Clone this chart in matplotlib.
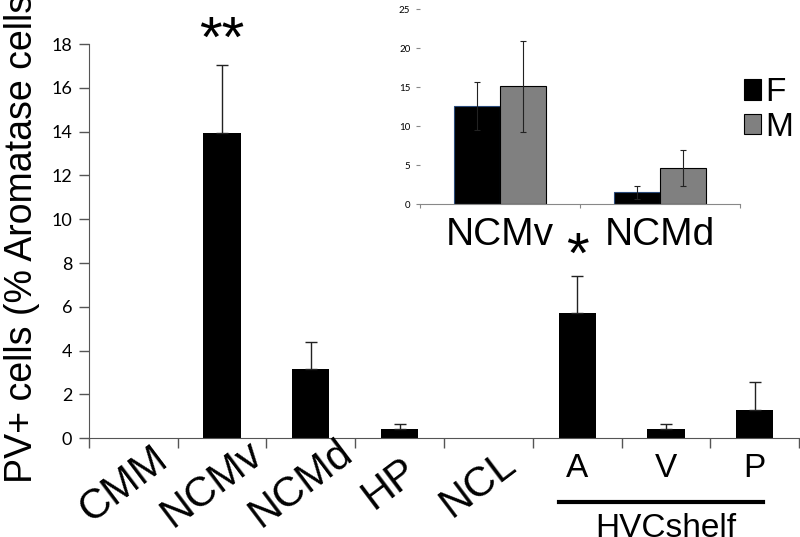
import numpy as np
import matplotlib.pyplot as plt
from matplotlib.transforms import offset_copy

# PV+ cells as % of aromatase cells, per region
regions = ["CMM", "NCMv", "NCMd", "HP", "NCL", "A", "V", "P"]
pv_mean = [0, 13.95, 3.15, 0.42, 0, 5.7, 0.42, 1.3]
pv_err = [0, 3.1, 1.25, 0.25, 0, 1.72, 0.25, 1.27]

# inset: females vs males
inset_groups = ["NCMv", "NCMd"]
female_mean = [12.6, 1.5]
female_err = [3.05, 0.85]
male_mean = [15.1, 4.6]
male_err = [5.8, 2.3]

big = "Liberation Sans"
small = "Lato"
axis_col = "#555555"

fig = plt.figure(figsize=(8, 5.37), dpi=100)
ax = fig.add_axes([0.111, 0.184, 0.888, 0.734])

x = np.arange(len(regions))
ax.bar(x, pv_mean, width=0.42, color="black")
has = [i for i in range(len(regions)) if pv_mean[i] > 0]
ax.errorbar(x[has], np.array(pv_mean)[has],
            yerr=[np.zeros(len(has)), np.array(pv_err)[has]],
            fmt="none", ecolor="#222222", elinewidth=1, capsize=4, capthick=1)

ax.set_xlim(-0.5, len(regions) - 0.5)
ax.set_ylim(0, 18)
ax.set_yticks(range(0, 19, 2))
ax.set_xticks(np.arange(len(regions) + 1) - 0.5)
ax.set_xticklabels([])
for s in ["top", "right"]:
    ax.spines[s].set_visible(False)
for s in ["left", "bottom"]:
    ax.spines[s].set_color(axis_col)
ax.tick_params(axis="both", direction="out", length=7, color=axis_col, width=1)
ax.tick_params(axis="y", labelsize=13, pad=5)
for t in ax.get_yticklabels():
    t.set_family(small)

# category labels
xt = ax.get_xaxis_transform()
for i, lab in enumerate(regions):
    if i < 5:
        tr = offset_copy(xt, fig=fig, x=-7, y=-33, units="points")
        ax.text(x[i], 0, lab, transform=tr, rotation=37, rotation_mode="anchor",
                ha="center", va="center", fontsize=30, family=big)
    else:
        tr = offset_copy(xt, fig=fig, x=0, y=-11, units="points")
        ax.text(x[i], 0, lab, transform=tr, ha="center", va="top",
                fontsize=24, family=big)

# HVC shelf bracket
ax.plot([x[5] - 0.21, x[7] + 0.09], [-0.162, -0.162], transform=xt,
        color="black", lw=3, clip_on=False)
ax.text(x[6], -0.19, "HVCshelf", transform=xt, ha="center", va="top",
        fontsize=24, family=big)

# significance stars
ax.text(x[1], pv_mean[1] + pv_err[1] + 0.35, "**", ha="center", va="baseline",
        fontsize=42, family=big, clip_on=False)
ax.text(x[5], pv_mean[5] + pv_err[5] + 0.12, "*", ha="center", va="baseline",
        fontsize=42, family=big, clip_on=False)

fig.text(0.027, 0.568, "PV+ cells (% Aromatase cells)", rotation=90,
         ha="center", va="center", fontsize=27, family=big)

# inset
ins = fig.add_axes([0.525, 0.62, 0.4, 0.363])
xi = np.arange(len(inset_groups))
w = 0.285
bf = ins.bar(xi - w / 2, female_mean, width=w, color="black", edgecolor="#2a4a7a",
             linewidth=0.8, label="F")
bm = ins.bar(xi + w / 2, male_mean, width=w, color="#808080", edgecolor="black",
             linewidth=0.8, label="M")
ins.errorbar(xi - w / 2, female_mean, yerr=female_err, fmt="none",
             ecolor="#222222", elinewidth=0.8, capsize=2.5, capthick=0.8)
ins.errorbar(xi + w / 2, male_mean, yerr=male_err, fmt="none",
             ecolor="#222222", elinewidth=0.8, capsize=2.5, capthick=0.8)
ins.set_xlim(-0.5, len(inset_groups) - 0.5)
ins.set_ylim(0, 25)
ins.set_yticks(range(0, 26, 5))
ins.set_xticks(np.arange(len(inset_groups) + 1) - 0.5)
ins.set_xticklabels([])
for s in ["top", "right", "left"]:
    ins.spines[s].set_visible(False)
ins.spines["bottom"].set_color("#888888")
ins.tick_params(axis="both", direction="out", length=3, color="#888888", width=0.8)
ins.tick_params(axis="y", labelsize=7, pad=4)
for t in ins.get_yticklabels():
    t.set_family(small)
ixt = ins.get_xaxis_transform()
for i, lab in enumerate(inset_groups):
    tr = offset_copy(ixt, fig=fig, x=0, y=-9, units="points")
    ins.text(xi[i], 0, lab, transform=tr, ha="center", va="top",
             fontsize=28, family=big)

leg = ins.legend(handles=[bf, bm], loc="upper left", bbox_to_anchor=(0.93, 0.856),
                 bbox_transform=fig.transFigure, frameon=False,
                 prop={"family": big, "size": 24}, handlelength=0.5,
                 handleheight=0.55, handletextpad=0.15, labelspacing=0.1,
                 borderpad=0, borderaxespad=0)
leg.legend_handles[0].set_edgecolor("black")

fig.savefig("out.png", dpi=100)
